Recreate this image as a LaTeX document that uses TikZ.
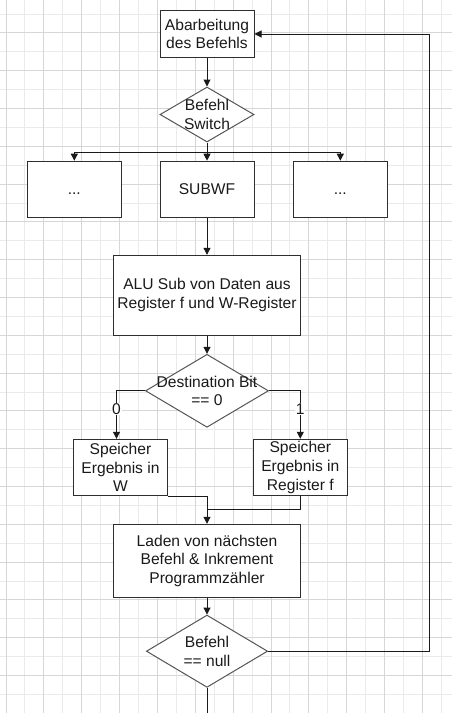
\documentclass[tikz,border=0pt]{standalone}
\usepackage{fontspec}
\setmainfont{Liberation Sans}
\usetikzlibrary{shapes.geometric,arrows.meta}
\definecolor{boxc}{HTML}{2E2E2E}
\definecolor{diac}{HTML}{555555}
\definecolor{connc}{HTML}{1A1A1A}
\definecolor{gridlight}{HTML}{EAEAEA}
\definecolor{griddark}{HTML}{D6D6D6}
\definecolor{txtc}{HTML}{1A1A1A}
\newcommand\mainfnt{\fontsize{15.6}{18.7}\selectfont}
\begin{document}
\begin{tikzpicture}[x=1pt,y=-1pt,
  box/.style={draw=boxc,line width=1pt,rectangle,inner sep=0pt,align=center,font=\mainfnt,text=txtc},
  dia/.style={draw=diac,line width=1pt,diamond,inner sep=0pt},
  txt/.style={inner sep=0pt,align=center,font=\mainfnt,text=txtc},
  lbl/.style={inner sep=0.8pt,fill=white,font=\mainfnt,text=txtc},
  line/.style={draw=connc,line width=1pt},
  conn/.style={line,-{Triangle[width=7pt,length=7pt]}},
  gl/.style={draw=gridlight,line width=1pt},
  gd/.style={draw=griddark,line width=1pt}
]
\path[fill=white,use as bounding box] (0,0) rectangle (452,713);
% grid
\foreach \k in {1,3,...,23} \draw[gl] ({6+18.93*\k},0) -- ({6+18.93*\k},713);
\foreach \k in {0,2,...,36} \draw[gl] (0,{14+18.9*\k}) -- (452,{14+18.9*\k});
\foreach \k in {0,2,...,22} \draw[gd] ({6+18.93*\k},0) -- ({6+18.93*\k},713);
\foreach \k in {1,3,...,37} \draw[gd] (0,{14+18.9*\k}) -- (452,{14+18.9*\k});

% nodes
\node[box,fill=white,minimum width=94pt,minimum height=47pt] (b1) at (207,34) {Abarbeitung\\des Befehls};
\node[dia,fill=white,minimum width=94pt,minimum height=55pt] (d1) at (207,114.5) {};
\node[txt] (d1t) at (d1.center) {Befehl\\Switch};
\node[box,fill=white,minimum width=94pt,minimum height=56pt] (bl) at (74.3,189.2) {\vphantom{S}...};
\node[box,fill=white,minimum width=94pt,minimum height=56pt] (bm) at (207,189.2) {SUBWF};
\node[box,fill=white,minimum width=94pt,minimum height=56pt] (br) at (340.3,189.2) {\vphantom{S}...};
\node[box,fill=white,minimum width=187.6pt,minimum height=80pt] (alu) at (207,295.3) {ALU Sub von Daten aus\\Register f und W-Register};
\node[dia,fill=white,minimum width=123pt,minimum height=73pt] (d2) at (207,390.8) {};
\node[txt] (d2t) at (d2.center) {Destination Bit\\== 0};
\node[box,fill=white,minimum width=93.6pt,minimum height=56.2pt] (bw) at (120.5,467.4) {Speicher\\Ergebnis in\\W};
\node[box,fill=white,minimum width=94pt,minimum height=56.2pt] (bf) at (300.3,467.4) {Speicher\\Ergebnis in\\Register f};
\node[box,fill=white,minimum width=187.6pt,minimum height=73pt] (ld) at (207,560.8) {Laden von nächsten\\Befehl \& Inkrement\\Programmzähler};
\node[dia,fill=white,minimum width=121.3pt,minimum height=72.3pt] (d3) at (207,651.2) {};
\node[txt] (d3t) at (d3.center) {Befehl\\== null};

% helper coordinates
\coordinate (sw) at (207,152.3);
\coordinate (lw) at (116.5,390.8);
\coordinate (mj) at (207,509.3);
\coordinate (endp) at (207,713);
\coordinate (lp) at (429.3,34);

% connectors
\draw[conn] (b1.south) -- (d1.north);
\draw[line] (d1.south) -- (sw);
\draw[conn] (sw) -- (bm.north);
\draw[conn] (sw) -| (bl.north);
\draw[conn] (sw) -| (br.north);
\draw[conn] (bm.south) -- (alu.north);
\draw[conn] (alu.south) -- (d2.north);
\draw[conn] (d2.west) -- (lw) -- (lw |- bw.north);
\draw[conn] (d2.east) -| (bf.north);
\node[lbl] (l0) at (116.5,409) {0};
\node[lbl] (l1) at (300.3,409) {1};
\draw[conn] (bw.south east) -| (ld.north);
\draw[line] (bf.south) |- (mj);
\draw[conn] (ld.south) -- (d3.north);
\draw[line] (d3.south) -- (endp);
\draw[conn] (d3.east) -| (lp) -- (b1.east);
\end{tikzpicture}
\end{document}
